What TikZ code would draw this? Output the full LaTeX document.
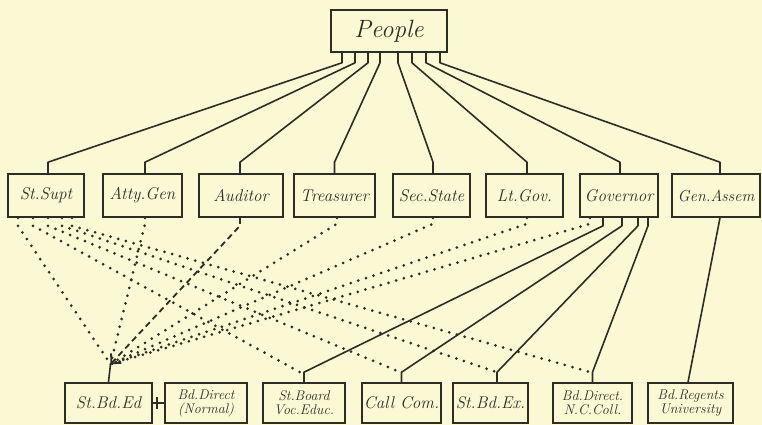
\documentclass[tikz,border=0pt]{standalone}
\usetikzlibrary{calc,arrows.meta}
\definecolor{paper}{RGB}{251,248,212}
\definecolor{ink}{RGB}{45,45,40}
\begin{document}
\begin{tikzpicture}[x=1pt,y=-1pt,
  box/.style={draw=ink, line width=1.6pt, inner sep=1pt, text=ink, align=center,
    font=\fontsize{17}{18}\selectfont\itshape},
  mid/.style={box, minimum height=43pt},
  low/.style={box, minimum height=40pt},
  two/.style={font=\fontsize{14}{14}\selectfont\itshape},
  conn/.style={draw=ink, line width=1.6pt, line join=round},
  dots/.style={draw=ink, line width=3pt, line cap=round, dash pattern=on 0pt off 8pt},
  dashes/.style={draw=ink, line width=1.8pt, dash pattern=on 6pt off 4pt}]
\fill[paper] (0,0) rectangle (762,425);
\useasboundingbox (0,0) rectangle (762,425);

\node[box, minimum width=116pt, minimum height=42pt, font=\fontsize{25}{26}\selectfont\itshape] (people) at (389,31) {People};

\node[mid, minimum width=76pt] (stsupt) at (46,195.5) {St.Supt};
\node[mid, minimum width=79pt] (atty) at (142.5,195.5) {Atty.Gen};
\node[mid, minimum width=84pt] (aud) at (241,195.5) {Auditor};
\node[mid, minimum width=81pt] (treas) at (334.5,195.5) {Treasurer};
\node[mid, minimum width=77pt] (sec) at (431.5,195.5) {Sec.State};
\node[mid, minimum width=77pt] (ltgov) at (524.5,195.5) {Lt.Gov.};
\node[mid, minimum width=78pt] (gov) at (619,195.5) {Governor};
\node[mid, minimum width=88pt, font=\fontsize{16}{17}\selectfont\itshape] (gen) at (716,195.5) {Gen.Assem};

\node[low, minimum width=87pt] (stbded) at (108.5,403) {St.Bd.Ed};
\node[low, two, minimum width=82pt] (bddir) at (206,403) {Bd.Direct\\(Normal)};
\node[low, two, minimum width=82pt] (voc) at (304,403) {St.Board\\Voc.Educ.};
\node[low, minimum width=79pt] (call) at (401.5,403) {Call Com.};
\node[low, minimum width=75pt] (ex) at (490.5,403) {St.Bd.Ex.};
\node[low, two, minimum width=79pt] (nc) at (592.5,403) {Bd.Direct.\\N.C.Coll.};
\node[low, two, minimum width=85pt] (reg) at (690.5,403) {Bd.Regents\\University};

% People to second level
\foreach \off/\tgt/\toff in {-47/stsupt/2, -34/atty/2.5, -21/aud/-1, -9/treas/0, 9/sec/1.5, 23/ltgov/2.5, 37/gov/1, 51/gen/4}
  \draw[conn] ([xshift=\off pt]people.south) -- ++(0,10) -- ([xshift=\toff pt, yshift=11pt]\tgt.north) -- ([xshift=\toff pt]\tgt.north);

% Governor solid lines
\foreach \off/\tgt/\toff in {-16/voc/0, 3/call/0, 19/ex/6.5, 29/nc/0}
  \draw[conn] ([xshift=\off pt]gov.south) -- ++(0,8) -- ([xshift=\toff pt, yshift=10pt]\tgt.north) -- ([xshift=\toff pt]\tgt.north);
\draw[conn] ([xshift=4pt]gen.south) -- ([xshift=-2.5pt]reg.north);

% convergence above St.Bd.Ed
\coordinate (conv) at ($(stbded.north)+(2,-18)$);

% St.Supt dotted lines
\foreach \off/\tgt/\toff in {-13/voc/-4, 2/call/-1, 16/ex/6.5, 26/nc/-2}
  \draw[dots] ([xshift=\off pt]stsupt.south) -- ++(0,8) -- ([xshift=\toff pt, yshift=10pt]\tgt.north);
\draw[dots] ([xshift=-28pt]stsupt.south) -- ++(0,8) -- (conv);

% other officers to St.Bd.Ed
\foreach \src/\off in {atty/2.5, treas/2.5, sec/1.5, ltgov/2.5, gov/-29}
  \draw[dots] ([xshift=\off pt]\src.south) -- ++(0,6) -- (conv);
\draw[dashes, -{Straight Barb[length=7pt]}] ([xshift=-1pt]aud.south) -- ++(0,8) -- (conv);
\draw[conn] (conv) -- (stbded.north);

% St.Bd.Ed -- Bd.Direct
\draw[conn] (stbded.east) -- (bddir.west);
\draw[conn] ($(stbded.east)+(4,-6)$) -- ($(stbded.east)+(4,6)$);
\end{tikzpicture}
\end{document}
